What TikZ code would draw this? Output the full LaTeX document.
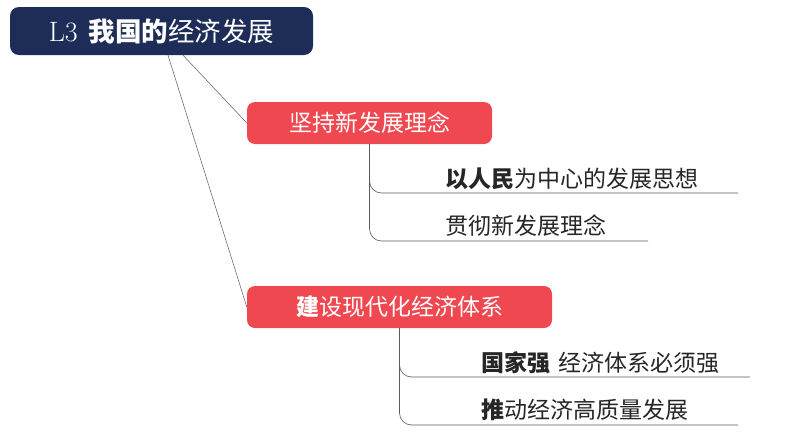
\documentclass[tikz,border=0pt]{standalone}
\usepackage{fontspec}
\usepackage{tikz}
\usetikzlibrary{calc,positioning}
\newfontfamily\cjk{Noto Sans CJK SC}
\definecolor{navy}{RGB}{30,45,88}
\definecolor{topicred}{RGB}{240,72,80}
\definecolor{linegray}{RGB}{90,90,90}

\begin{document}
\begin{tikzpicture}[x=1pt,y=-1pt,
    titlebox/.style={fill=navy,rounded corners=9pt,minimum width=303pt,minimum height=48pt,inner sep=0pt,text=white},
    topic/.style={fill=topicred,rounded corners=8pt,minimum height=42pt,inner sep=0pt,text=white,font=\cjk\fontsize{23}{27}\selectfont},
    leaf/.style={anchor=west,inner sep=0pt,text=black!85,font=\cjk\fontsize{23}{27}\selectfont},
    branch/.style={draw=linegray,line width=0.6pt,rounded corners=12pt}]
              \useasboundingbox (0,0) rectangle (794,447);
              \node[titlebox](title)at(161.5,31){\fontsize{28}{30}\selectfont L3\hspace{11pt}{\cjk\fontsize{26.5}{30}\selectfont\bfseries 我国的}{\cjk\fontsize{26.5}{30}\selectfont 经济发展}};
              \node[topic,minimum width=245pt](pA)at(369.5,123){坚持新发展理念};
              \node[topic,minimum width=305pt](pB)at(399.5,307){{\bfseries 建}设现代化经济体系};
              \draw[linegray,line width=0.5pt]([xshift=21.5pt]title.south)--(pA.west);
              \draw[linegray,line width=0.5pt]([xshift=6.5pt]title.south)--(pB.west);
              % first topic
              \coordinate(eA1)at(738,193);
              \coordinate(eA2)at(648,241);
              \draw[branch](pA.south)|-(eA1);
              \draw[branch](pA.south)|-(eA2);
              \node[leaf](a1)at(445,179){{\bfseries 以人民}为中心的发展思想};
              \node[leaf](a2)at(445,226){贯彻新发展理念};
              % second topic
              \coordinate(eB1)at(750,377);
              \coordinate(eB2)at(738,425);
              \draw[branch](pB.south)|-(eB1);
              \draw[branch](pB.south)|-(eB2);
              \node[leaf](b1)at(481,363){{\bfseries 国家强}\hspace{8pt}经济体系必须强};
              \node[leaf](b2)at(481,410){{\bfseries 推}动经济高质量发展};
            \end{tikzpicture}
\end{document}
